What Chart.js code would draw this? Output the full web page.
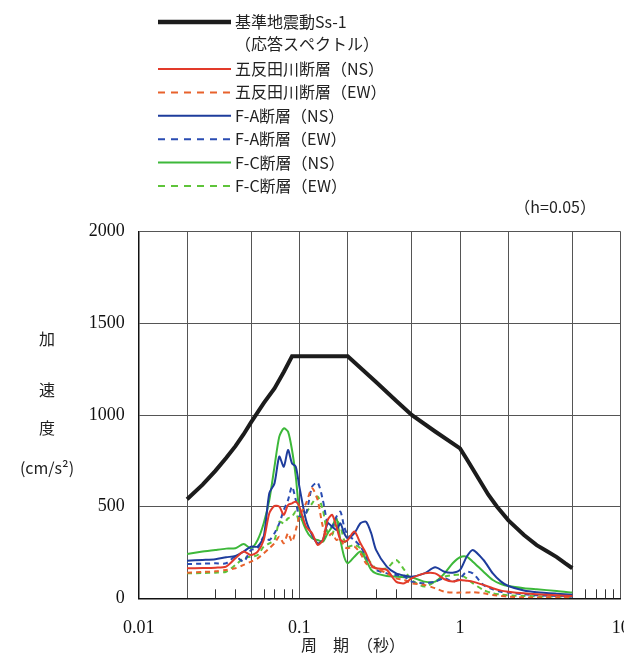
<!DOCTYPE html>
<html>
<head>
<meta charset="utf-8">
<script src="https://cdn.jsdelivr.net/npm/chart.js@4.4.0/dist/chart.umd.min.js"></script>
<style>
html, body { margin: 0; padding: 0; background: #fff; overflow: hidden; }
#wrap { position: relative; width: 640px; height: 654px; }
</style>
</head>
<body>
<div id="wrap"><canvas id="chart" width="640" height="654"></canvas></div>
<script>
// Design spectrum Ss-1
const ssPeriods = [0.02, 0.025, 0.03, 0.035, 0.04, 0.045, 0.05, 0.06, 0.07, 0.08, 0.09, 0.2, 0.3, 0.4, 0.5, 0.7, 1.0,
  1.1, 1.2, 1.3, 1.5, 1.7, 2, 2.5, 3, 3.5, 4, 4.5, 5];
const ssValues  = [540, 620, 695, 765, 830, 895, 960, 1065, 1145, 1235, 1320, 1320, 1180, 1078, 1000, 910, 818,
  760, 705, 655, 565, 500, 425, 345, 290, 255, 225, 192, 164];

// Periods shared by the fault spectra
const periods = [0.02, 0.025, 0.03, 0.035, 0.04, 0.045, 0.05, 0.055, 0.06, 0.065, 0.07, 0.075, 0.08, 0.085, 0.09, 0.095,
  0.1, 0.11, 0.12, 0.13, 0.14, 0.15, 0.16, 0.17, 0.18, 0.19, 0.2, 0.22, 0.24, 0.26, 0.28, 0.3, 0.35, 0.4, 0.45, 0.5,
  0.6, 0.7, 0.8, 0.9, 1.0, 1.1, 1.2, 1.4, 1.6, 1.8, 2, 2.5, 3, 4, 5];

const gotandaNS = [164, 165, 167, 173, 218, 255, 236, 255, 318, 464, 504, 500, 455, 509, 518, 527,
  500, 391, 355, 291, 318, 427, 455, 391, 318, 309, 318, 364, 300, 245, 182, 164, 155, 91, 82, 109,
  136, 136, 104, 91, 100, 96, 91, 73, 55, 42, 36, 27, 22, 16, 13];
const gotandaEW = [140, 144, 147, 155, 164, 182, 200, 218, 245, 273, 300, 336, 300, 355, 309, 373,
  445, 518, 600, 536, 391, 336, 355, 318, 327, 282, 273, 282, 245, 191, 173, 164, 136, 109, 100, 82,
  73, 55, 36, 31, 31, 31, 33, 27, 18, 13, 9, 5, 5, 5, 4];
const faNS = [205, 209, 213, 224, 231, 255, 282, 282, 336, 573, 627, 773, 718, 809, 736, 718,
  609, 427, 345, 300, 318, 409, 391, 373, 409, 355, 327, 355, 409, 418, 355, 264, 173, 136, 124, 118,
  136, 169, 145, 140, 155, 227, 264, 209, 136, 91, 67, 42, 33, 25, 20];
const faEW = [187, 189, 191, 191, 227, 200, 264, 273, 336, 318, 355, 409, 482, 536, 609, 536,
  445, 464, 609, 631, 536, 409, 391, 445, 473, 391, 345, 318, 282, 227, 182, 155, 136, 127, 118, 91,
  82, 91, 109, 91, 109, 145, 136, 73, 49, 36, 31, 22, 16, 13, 9];
const fcNS = [242, 255, 264, 271, 273, 296, 273, 318, 409, 536, 718, 882, 927, 909, 809, 664,
  482, 373, 327, 318, 309, 355, 391, 436, 318, 227, 191, 227, 255, 209, 155, 136, 122, 118, 115, 115,
  91, 91, 136, 191, 224, 227, 200, 145, 100, 78, 67, 55, 49, 40, 31];
const fcEW = [136, 138, 140, 145, 182, 218, 227, 236, 282, 300, 318, 418, 409, 436, 445, 473,
  418, 464, 518, 555, 482, 355, 345, 427, 391, 318, 282, 291, 273, 227, 191, 164, 164, 209, 155, 100,
  64, 91, 118, 127, 127, 109, 82, 45, 27, 20, 16, 13, 11, 9, 7];

// Axis ticks
const xGridValues = [0.01, 0.02, 0.05, 0.1, 0.2, 0.5, 1, 2, 5, 10];
const xLabelValues = [0.01, 0.1, 1, 10];
const xTickLabels = ['0.01', '0.1', '1', '10'];
const xMinorTicks = [0.03, 0.04, 0.06, 0.07, 0.08, 0.09, 0.3, 0.4, 6, 7, 8, 9];
const yTickValues = [0, 500, 1000, 1500, 2000];

const legendLines = [
  ['基準地震動Ss-1', '（応答スペクトル）'],
  ['五反田川断層（NS）'],
  ['五反田川断層（EW）'],
  ['F-A断層（NS）'],
  ['F-A断層（EW）'],
  ['F-C断層（NS）'],
  ['F-C断層（EW）']
];

const toPoints = (xs, ys) => xs.map((x, i) => ({ x: x, y: ys[i] }));

const gothic = '"Noto Sans CJK JP", "Noto Sans", sans-serif';
const serif = '"Liberation Serif", "DejaVu Serif", serif';
const DASH = [5, 4];

function series(label, values, color, dashed) {
  return {
    label: label,
    data: toPoints(periods, values),
    borderColor: color,
    borderWidth: 2,
    borderDash: dashed ? DASH : [],
    pointRadius: 0,
    tension: 0.25,
    fill: false
  };
}

const datasets = [
  {
    label: legendLines[0][0],
    data: toPoints(ssPeriods, ssValues),
    borderColor: '#1c1c1c',
    borderWidth: 4,
    pointRadius: 0,
    tension: 0,
    fill: false
  },
  series(legendLines[1][0], gotandaNS, '#e23a2a', false),
  series(legendLines[2][0], gotandaEW, '#e8622c', true),
  series(legendLines[3][0], faNS, '#1e3c9c', false),
  series(legendLines[4][0], faEW, '#2a4cb2', true),
  series(legendLines[5][0], fcNS, '#3db83a', false),
  series(legendLines[6][0], fcEW, '#5ec43a', true)
];

// Minor ticks, legend and extra texts
const decorations = {
  id: 'decorations',
  beforeDatasetsDraw(chart) {
    const c = chart.ctx;
    const xs = chart.scales.x;
    const bottom = chart.chartArea.bottom;
    c.save();
    c.strokeStyle = '#333';
    c.lineWidth = 1;
    xMinorTicks.forEach(v => {
      const px = Math.round(xs.getPixelForValue(v)) + 0.5;
      c.beginPath();
      c.moveTo(px, bottom);
      c.lineTo(px, bottom - 9);
      c.stroke();
    });
    c.restore();
  },
  afterDraw(chart) {
    const c = chart.ctx;
    const area = chart.chartArea;
    c.save();
    c.fillStyle = '#222';
    c.font = '16px ' + gothic;
    c.textBaseline = 'middle';

    // legend
    let y = 22;
    chart.data.datasets.forEach((ds, i) => {
      c.save();
      c.strokeStyle = ds.borderColor;
      c.lineWidth = i === 0 ? 4.5 : 2;
      c.setLineDash(ds.borderDash && ds.borderDash.length ? [7, 6] : []);
      c.beginPath();
      c.moveTo(158, y);
      c.lineTo(231, y);
      c.stroke();
      c.restore();
      c.textAlign = 'left';
      legendLines[i].forEach((t, k) => c.fillText(t, 235, y + k * 22));
      y += i === 0 ? 47 : 23.4;
    });

    c.textAlign = 'right';
    c.fillText('（h=0.05）', 596, 207);

    // y axis title
    c.textAlign = 'center';
    c.fillText('加', 47, 339);
    c.fillText('速', 47, 390);
    c.fillText('度', 47, 428);
    c.fillText('(cm/s²)', 47, 468);

    // x axis title
    c.textAlign = 'left';
    c.fillText('周　期　（秒）', 301, area.bottom + 47);
    c.restore();
  }
};

const ctx = document.getElementById('chart').getContext('2d');
const chart = new Chart(ctx, {
  type: 'line',
  data: { datasets: datasets },
  plugins: [decorations],
  options: {
    responsive: false,
    animation: false,
    events: [],
    layout: { padding: { top: 231.7, right: 19.3, left: 0, bottom: 0 } },
    plugins: { legend: { display: false }, tooltip: { enabled: false } },
    scales: {
      x: {
        type: 'logarithmic',
        min: 0.01,
        max: 10,
        afterFit: scale => { scale.height = 55.7; scale.paddingLeft = 0; scale.paddingRight = 0; },
        afterBuildTicks: scale => { scale.ticks = xGridValues.map(v => ({ value: v })); },
        border: { color: '#111', width: 1.5 },
        grid: { color: '#555', lineWidth: 1, drawTicks: false },
        ticks: {
          autoSkip: false,
          maxRotation: 0,
          padding: 19,
          color: '#111',
          font: { family: serif, size: 18 },
          callback: function(value) {
            const i = xLabelValues.indexOf(value);
            return i >= 0 ? xTickLabels[i] : '';
          }
        }
      },
      y: {
        min: 0,
        max: 2000,
        afterFit: scale => { scale.width = 138.7; scale.paddingTop = 0; scale.paddingBottom = 0; },
        afterBuildTicks: scale => { scale.ticks = yTickValues.map(v => ({ value: v })); },
        border: { color: '#111', width: 1.5 },
        grid: { color: '#555', lineWidth: 1, drawTicks: false },
        ticks: {
          padding: 14,
          color: '#111',
          font: { family: serif, size: 18 },
          callback: value => String(value)
        }
      }
    }
  }
});
</script>
</body>
</html>
